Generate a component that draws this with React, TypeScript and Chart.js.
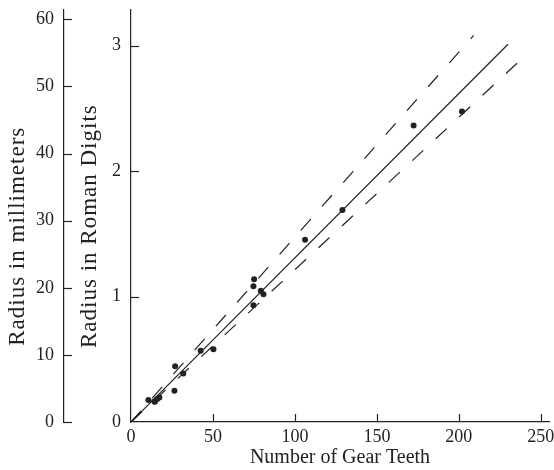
import React, { useEffect, useRef } from "react";
import { Chart, registerables } from "chart.js";

Chart.register(...registerables);

// Measured gear data: number of teeth vs. radius (Roman digits)
const gearTeeth = [10.6, 14.2, 14.6, 16, 17.3, 26.5, 26.9, 31.9, 42.5, 50.3, 74.7, 74.7, 75.1, 79.2, 80.8, 106.2, 129, 172.4, 201.9];
const radiusRoman = [0.175, 0.164, 0.162, 0.183, 0.196, 0.249, 0.445, 0.387, 0.567, 0.58, 0.931, 1.082, 1.137, 1.045, 1.018, 1.453, 1.689, 2.363, 2.474];

// Fitted line and bounds (start and end points)
const fitX = [0, 230];
const fitY = [0, 3.01];
const upperX = [0, 209];
const upperY = [0, 3.08];
const lowerX = [0, 237];
const lowerY = [0, 2.877];

// Tick labels
const xTicks = [0, 50, 100, 150, 200, 250];
const romanTicks = [0, 1, 2, 3];
const mmTicks = [0, 10, 20, 30, 40, 50, 60];

const INK = "#222222";
const FONT = "'Liberation Serif', 'Times New Roman', serif";

const innerTicks = {
  id: "innerTicks",
  afterDraw(chart: any) {
    const ctx = chart.ctx;
    ctx.save();
    ctx.strokeStyle = INK;
    ctx.lineWidth = 1.2;
    const x = chart.scales.x;
    const len = 8;
    x.ticks.forEach((t: any) => {
      const px = Math.round(x.getPixelForValue(t.value)) + 0.5;
      if (t.value === 0) return;
      ctx.beginPath();
      ctx.moveTo(px, x.top);
      ctx.lineTo(px, x.top - len);
      ctx.stroke();
    });
    ["mm", "roman"].forEach((id) => {
      const s = chart.scales[id];
      s.ticks.forEach((t: any) => {
        const py = Math.round(s.getPixelForValue(t.value)) + 0.5;
        if (id === "roman" && t.value === 0) return;
        ctx.beginPath();
        ctx.moveTo(s.right, py);
        ctx.lineTo(s.right + len, py);
        ctx.stroke();
      });
    });
    ctx.restore();
  },
};

function setTicks(values: number[]) {
  return (scale: any) => {
    scale.ticks = values.map((v) => ({ value: v }));
  };
}

function spacedTitle(scale: any, spacing: string) {
  if (scale.__spaced) return;
  const orig = scale.drawTitle;
  scale.drawTitle = function () {
    const c = this.ctx;
    c.save();
    c.letterSpacing = spacing;
    orig.call(this);
    c.restore();
  };
  scale.__spaced = true;
}

function line(xs: number[], ys: number[]) {
  return xs.map((x, i) => ({ x, y: ys[i] }));
}

export default function App() {
  const ref = useRef<HTMLCanvasElement | null>(null);
  useEffect(() => {
    if (!ref.current) return;
    const tickFont = { family: FONT, size: 18 };
    const titleFont = { family: FONT, size: 20 };
    const yTitleFont = { family: FONT, size: 23 };
    const chart = new Chart(ref.current, {
      type: "scatter",
      data: {
        datasets: [
          {
            label: "gears",
            data: line(gearTeeth, radiusRoman),
            yAxisID: "roman",
            showLine: false,
            pointRadius: 3,
            pointBackgroundColor: INK,
            pointBorderColor: INK,
            pointBorderWidth: 0,
          },
          {
            label: "fit",
            data: line(fitX, fitY),
            yAxisID: "roman",
            showLine: true,
            pointRadius: 0,
            borderColor: INK,
            borderWidth: 1.2,
          },
          {
            label: "upper",
            data: line(upperX, upperY),
            yAxisID: "roman",
            showLine: true,
            pointRadius: 0,
            borderColor: INK,
            borderWidth: 1.2,
            borderDash: [15, 17],
          },
          {
            label: "lower",
            data: line(lowerX, lowerY),
            yAxisID: "roman",
            showLine: true,
            pointRadius: 0,
            borderColor: INK,
            borderWidth: 1.2,
            borderDash: [15, 17],
          },
        ],
      },
      options: {
        animation: false,
        responsive: false,
        events: [],
        layout: { padding: { left: 0, right: 5, top: 10, bottom: 0 } },
        plugins: { legend: { display: false }, tooltip: { enabled: false } },
        scales: {
          x: {
            type: "linear",
            position: "bottom",
            min: 0,
            max: 255,
            grid: { display: false, drawTicks: false },
            border: { display: true, color: INK, width: 1.2 },
            ticks: { color: INK, font: tickFont, padding: 4, maxRotation: 0 },
            afterBuildTicks: setTicks(xTicks),
            afterFit: (s: any) => {
              s.height = 48;
              s.paddingLeft = 0;
              s.paddingRight = 0;
            },
            title: {
              display: true,
              text: "Number of Gear Teeth",
              color: INK,
              font: titleFont,
              padding: { top: 0, bottom: 0 },
            },
          },
          mm: {
            type: "linear",
            position: "left",
            weight: 10,
            min: 0,
            max: 61.4,
            grid: { display: false, drawTicks: false },
            border: { display: true, color: INK, width: 1.2 },
            ticks: { color: INK, font: tickFont, padding: 10 },
            afterBuildTicks: setTicks(mmTicks),
            afterFit: (s: any) => {
              s.width = 64;
              s.paddingTop = 0;
              s.paddingBottom = 0;
              spacedTitle(s, "1px");
            },
            title: {
              display: true,
              text: "Radius in millimeters      ",
              color: INK,
              font: yTitleFont,
              padding: { top: 4, bottom: 0 },
            },
          },
          roman: {
            type: "linear",
            position: "left",
            weight: 0,
            min: 0,
            max: 3.283,
            grid: { display: false, drawTicks: false },
            border: { display: true, color: INK, width: 1.2 },
            ticks: { color: INK, font: tickFont, padding: 10 },
            afterBuildTicks: setTicks(romanTicks),
            afterFit: (s: any) => {
              s.width = 67;
              s.paddingTop = 0;
              s.paddingBottom = 0;
              spacedTitle(s, "1px");
            },
            title: {
              display: true,
              text: "Radius in Roman Digits   ",
              color: INK,
              font: yTitleFont,
              padding: { top: 12, bottom: 0 },
            },
          },
        },
      },
      plugins: [innerTicks],
    });
    return () => chart.destroy();
  }, []);
  return (
    <div style={{ position: "absolute", left: 0, top: 0, width: 554, height: 470, background: "#fff" }}>
      <canvas ref={ref} width={554} height={470} />
    </div>
  );
}
